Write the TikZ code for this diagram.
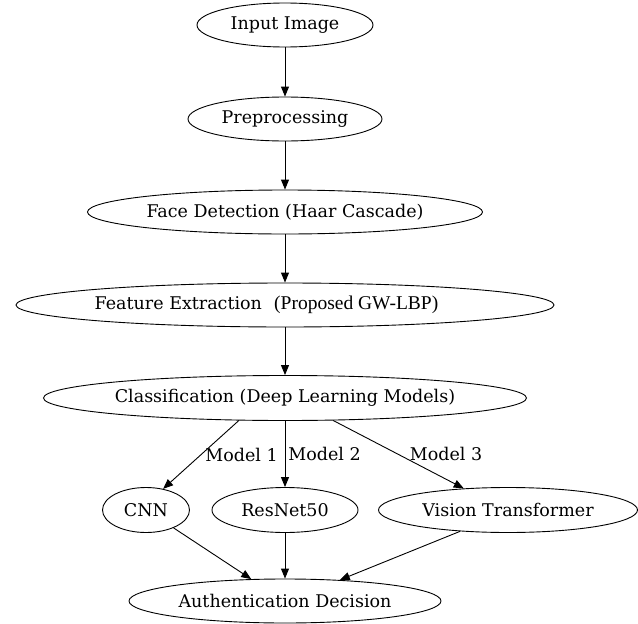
\documentclass[tikz,border=0pt]{standalone}
\usepackage{fontspec}
\setmainfont{DejaVu Serif}
\newfontfamily\propfont{Liberation Serif}
\usetikzlibrary{shapes.geometric, arrows.meta}

% centred text that does not widen its ellipse
\newcommand{\stagetext}[1]{\makebox[0pt]{#1}}

\begin{document}
\begin{tikzpicture}[x=1pt, y=-1pt,
  stage/.style={draw, ellipse, inner sep=0pt, minimum height=44pt, line width=0.9pt,
    font=\fontsize{17.5}{21}\selectfont},
  flow/.style={line width=0.9pt, -{Triangle[length=10pt, width=8pt]}},
  edgelabel/.style={font=\fontsize{17.5}{21}\selectfont, inner sep=0pt}]
  \useasboundingbox (0,0) rectangle (638,624);

  % Pipeline stages (x right, y down, in px of the layout)
  \node[stage, minimum width=176pt] (input) at (285,25) {\stagetext{Input Image}};
  \node[stage, minimum width=194pt] (prep) at (285,119) {\stagetext{Preprocessing}};
  \node[stage, minimum width=395pt] (face) at (285,212) {\stagetext{Face Detection (Haar Cascade)}};
  \node[stage, minimum width=538pt] (feat) at (285,305)
    {\stagetext{Feature Extraction\hspace{0.7em}{\propfont\fontsize{19.5}{21}\selectfont (Proposed GW-LBP)}\hspace*{37pt}}};
  \node[stage, minimum width=483pt, minimum height=45pt] (class) at (285,398)
    {\stagetext{Classification (Deep Learning Models)}};

  % Models
  \node[stage, minimum width=87pt, minimum height=45pt] (cnn) at (146,510) {\stagetext{CNN}};
  \node[stage, minimum width=146pt, minimum height=45pt] (resnet) at (285,510) {\stagetext{ResNet50}};
  \node[stage, minimum width=259pt, minimum height=45pt] (vit) at (508,510) {\stagetext{Vision Transformer}};

  % Decision
  \node[stage, minimum width=312pt] (auth) at (285,601) {\stagetext{Authentication Decision}};

  % Straight chain
  \foreach \a/\b in {input/prep, prep/face, face/feat, feat/class}
    \draw[flow] (\a) -- (\b);

  % Branches with labels
  \draw[flow] (class.206) -- node[edgelabel, right, pos=0.5, xshift=4pt] {Model 1} (cnn.51);
  \draw[flow] (class) -- node[edgelabel, right, pos=0.5, xshift=3pt] {Model 2} (resnet);
  \draw[flow] (class.335) -- node[edgelabel, right, pos=0.5, xshift=11pt] {Model 3} (vit.154);

  % Merge into decision
  \draw[flow] (cnn.327) -- (auth.147);
  \draw[flow] (resnet) -- (auth);
  \draw[flow] (vit.204) -- (auth.21);

\end{tikzpicture}
\end{document}
